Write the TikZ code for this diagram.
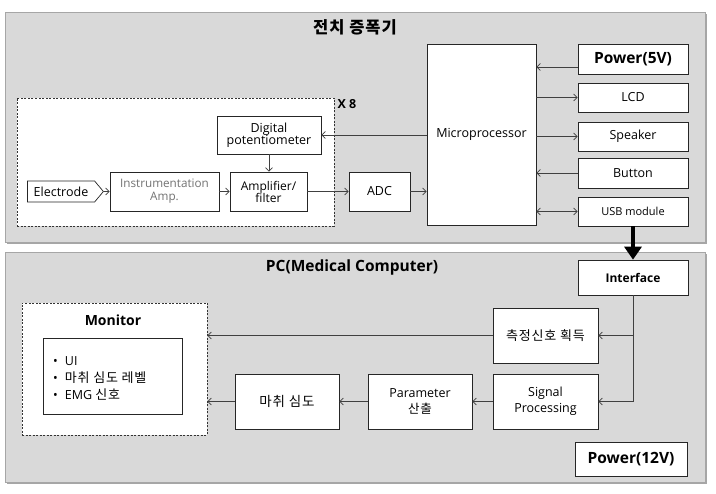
\documentclass[tikz,border=0pt]{standalone}
\usepackage{fontspec}
\setmainfont{Open Sans}
\newfontfamily\kr{Noto Sans CJK KR}[LetterSpace=6]
\usetikzlibrary{arrows.meta,shapes.symbols}
\definecolor{panel}{HTML}{D9D9D9}
\definecolor{panelline}{HTML}{A6A6A6}
\definecolor{ln}{HTML}{404040}
\tikzset{
  panelbox/.style={fill=panel,draw=panelline,line width=0.8pt},
  shadowbox/.style={fill=gray!70,draw=none},
  box/.style={draw=black!85,fill=white,line width=0.7pt,align=center,inner sep=1pt,font=\fontsize{12.5}{14}\selectfont},
  dashbox/.style={draw=black!80,fill=white,line width=0.6pt,dash pattern=on 2pt off 1.5pt},
  arr/.style={draw=ln,line width=0.7pt,-{Straight Barb[length=3.5pt,width=7pt]}},
  darr/.style={draw=ln,line width=0.7pt,{Straight Barb[length=3.5pt,width=7pt]}-{Straight Barb[length=3.5pt,width=7pt]}},
  bigarr/.style={draw=black,line width=4.5pt,-{Triangle[length=13pt,width=17pt]}},
  ttl/.style={font=\bfseries\fontsize{15.5}{18}\selectfont,inner sep=0pt}
}
\begin{document}
\begin{tikzpicture}[x=1pt,y=-1pt]
\useasboundingbox (0,0) rectangle (716,494);
% panels
\fill[shadowbox] (7,14) rectangle (707,244);
\draw[panelbox] (5,12) rectangle (705,242);
\fill[shadowbox] (7,254) rectangle (707,484);
\draw[panelbox] (5,252) rectangle (705,482);
\node[ttl,font=\kr\bfseries\fontsize{16.5}{18}\selectfont] (t1) at (355,27) {전치 증폭기};
\node[ttl] (t2) at (352,267) {PC(Medical Computer)};
% top section
\node[dashbox,minimum width=317,minimum height=128,inner sep=0pt] (x8box) at (175.5,162) {};
\node[font=\bfseries\fontsize{12.5}{14}\selectfont,inner sep=0pt] (x8) at (347,104) {X 8};
\node[box,minimum width=104,minimum height=38,font=\fontsize{12.5}{13}\selectfont] (pot) at (269,135) {Digital\\[-1pt]potentiometer};
\node[box,signal,signal to=east,signal pointer angle=100,minimum width=76,minimum height=21,inner sep=1pt,font=\fontsize{12.5}{14}\selectfont] (elec) at (61,191.5) {Electrode};
\node[box,minimum width=109,minimum height=39,text=black!55,font=\fontsize{11.7}{13}\selectfont] (inst) at (164.5,191.5) {Instrumentation\\Amp.};
\node[box,minimum width=77,minimum height=39,font=\fontsize{12}{13}\selectfont] (amp) at (268.5,191.5) {Amplifier/\\[-1pt]filter};
\node[box,minimum width=61,minimum height=39] (adc) at (379.5,191.5) {ADC};
\node[box,minimum width=109,minimum height=181] (micro) at (481.5,134.5) {Microprocessor};
\node[box,minimum width=110,minimum height=30,font=\bfseries\fontsize{15.5}{17}\selectfont] (p5) at (633,59) {Power(5V)};
\node[box,minimum width=110,minimum height=29] (lcd) at (633,97.5) {LCD};
\node[box,minimum width=110,minimum height=29] (spk) at (633,136.5) {Speaker};
\node[box,minimum width=110,minimum height=30] (btn) at (633,173) {Button};
\node[box,minimum width=110,minimum height=29,font=\fontsize{11}{12}\selectfont] (usb) at (633,211.5) {USB module};
% top connectors
\draw[arr] (elec.east) -- (inst.west);
\draw[arr] (inst.east) -- (amp.west);
\draw[arr] (amp.east) -- (adc.west);
\draw[arr] (adc.east) -- (micro.west |- adc.east);
\draw[arr] (micro.west |- pot.east) -- (pot.east);
\draw[arr] (pot.south) -- (amp.north -| pot.south);
\draw[arr] (p5.west |- 0,67) -- (micro.east |- 0,67);
\draw[arr] (micro.east |- lcd.west) -- (lcd.west);
\draw[arr] (micro.east |- spk.west) -- (spk.west);
\draw[arr] (btn.west) -- (micro.east |- btn.west);
\draw[darr] (micro.east |- usb.west) -- (usb.west);
% bottom section
\node[box,minimum width=110,minimum height=35,font=\bfseries\fontsize{12}{14}\selectfont] (intf) at (633,277.5) {Interface};
\draw[bigarr] (usb.south) -- (intf.north);
\node[box,minimum width=105,minimum height=55,font=\kr\fontsize{13}{15}\selectfont] (meas) at (545.5,335.5) {측정신호 획득};
\node[box,minimum width=105,minimum height=55,font=\fontsize{12.5}{16}\selectfont] (sig) at (545.5,401.5) {Signal\\Processing};
\node[box,minimum width=104,minimum height=55,font=\fontsize{12.5}{16}\selectfont] (param) at (420,401.5) {Parameter\\{\kr 산출}};
\node[box,minimum width=104,minimum height=55,font=\kr\fontsize{13.5}{15}\selectfont] (depth) at (287,401.5) {마취 심도};
\node[dashbox,minimum width=185,minimum height=132,inner sep=0pt] (mon) at (114.5,369) {};
\node[font=\bfseries\fontsize{14}{16}\selectfont,inner sep=0pt] (montitle) at (113,320) {Monitor};
\node[box,minimum width=139,minimum height=76] (monin) at (112.5,376) {};
\node[anchor=north west,align=left,inner sep=0pt,font=\fontsize{12.5}{17}\selectfont] (monlist) at (53,356) {\textbullet\hspace{7pt}UI\\ \textbullet\hspace{7pt}{\kr\fontsize{13}{17}\selectfont 마취 심도 레벨}\\ \textbullet\hspace{7pt}EMG {\kr\fontsize{13}{17}\selectfont 신호}};
\node[box,minimum width=112,minimum height=34,font=\bfseries\fontsize{15.5}{17}\selectfont] (p12) at (631,459) {Power(12V)};
% bottom connectors
\draw[arr] (intf.south) |- (sig.east);
\draw[arr] (intf.south |- meas.east) -- (meas.east);
\draw[arr] (sig.west) -- (param.east);
\draw[arr] (param.west) -- (depth.east);
\draw[arr] (depth.west) -- (mon.east |- depth.west);
\draw[arr] (meas.west) -- (mon.east |- meas.west);
\end{tikzpicture}
\end{document}
